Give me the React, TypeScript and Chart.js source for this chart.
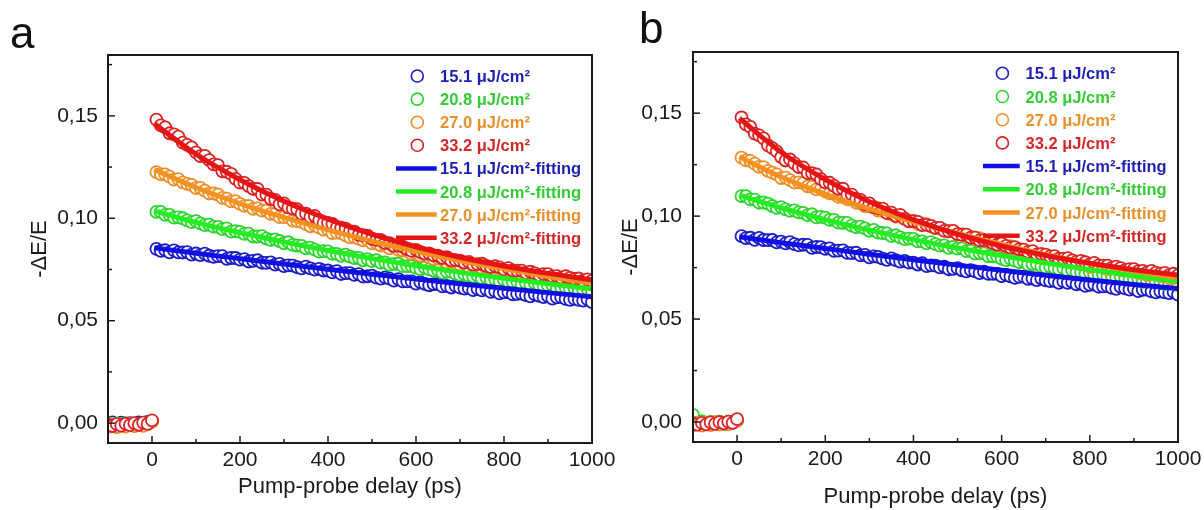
import React, { useEffect, useRef } from 'react';
import { Chart, registerables } from 'chart.js';

Chart.register(...registerables);

const FONT = '"Liberation Sans", Arial, Helvetica, sans-serif';

// ---------- data ----------
const delayTimes = [
  -100, -90, -80, -70, -60, -50, -40, -30, -20, -10, 0,
  10, 20, 30, 40, 50, 60, 70, 80, 90, 100,
  110, 120, 130, 140, 150, 160, 170, 180, 190, 200,
  210, 220, 230, 240, 250, 260, 270, 280, 290, 300,
  310, 320, 330, 340, 350, 360, 370, 380, 390, 400,
  410, 420, 430, 440, 450, 460, 470, 480, 490, 500,
  510, 520, 530, 540, 550, 560, 570, 580, 590, 600,
  610, 620, 630, 640, 650, 660, 670, 680, 690, 700,
  710, 720, 730, 740, 750, 760, 770, 780, 790, 800,
  810, 820, 830, 840, 850, 860, 870, 880, 890, 900,
  910, 920, 930, 940, 950, 960, 970, 980, 990, 1000,
];
const fitTimes = [5, 100, 200, 300, 400, 500, 600, 700, 800, 900, 1000];
const fluences = ['15.1', '20.8', '27.0', '33.2'];

const xMajorTicks = [0, 200, 400, 600, 800, 1000];
const xMinorTicks = [100, 300, 500, 700, 900];
const yMajorTicks = [0, 0.05, 0.1, 0.15];
const yMinorTicks = [0.025, 0.075, 0.125, 0.175];

// panel a
const aBlue = [
  -0.0006, 0.0004, -0.001, 0.0002, -0.0008, 0.0, -0.0012, 0.0003, -0.0005, 0.0006, 0.001,
  0.0851, 0.0841, 0.0844, 0.0834, 0.0843, 0.0834, 0.0833, 0.0835, 0.0823, 0.0828,
  0.082, 0.0827, 0.0817, 0.0812, 0.0815, 0.0815, 0.0802, 0.0806, 0.0806, 0.0798,
  0.0801, 0.0789, 0.0792, 0.0795, 0.0783, 0.0782, 0.0785, 0.0774, 0.0777, 0.0766,
  0.077, 0.0769, 0.0761, 0.0755, 0.0764, 0.0755, 0.0749, 0.0753, 0.0745, 0.0745,
  0.0736, 0.0742, 0.0728, 0.0732, 0.0732, 0.0724, 0.0727, 0.0715, 0.0717, 0.072,
  0.071, 0.0705, 0.0711, 0.0705, 0.0696, 0.0703, 0.0692, 0.0692, 0.0692, 0.0681,
  0.0688, 0.068, 0.0673, 0.0678, 0.0679, 0.0668, 0.067, 0.0662, 0.067, 0.0661,
  0.0657, 0.0659, 0.0649, 0.0655, 0.0648, 0.0653, 0.0641, 0.0644, 0.0633, 0.0638,
  0.064, 0.0629, 0.0631, 0.0632, 0.0625, 0.0619, 0.0628, 0.0621, 0.0615, 0.062,
  0.0608, 0.0614, 0.0615, 0.0607, 0.0602, 0.0607, 0.0602, 0.0598, 0.0604, 0.0591,
];
const aGreen = [
  -0.0003, -0.0009, -0.0001, -0.0011, 0.0, -0.0007, -0.0002, -0.001, 0.0001, -0.0004, 0.0008,
  0.1031, 0.1031, 0.1017, 0.1017, 0.1003, 0.1004, 0.1, 0.099, 0.0981, 0.0986,
  0.0975, 0.0967, 0.0969, 0.0959, 0.0958, 0.0947, 0.0951, 0.0935, 0.0937, 0.0934,
  0.0924, 0.0925, 0.0911, 0.0911, 0.0913, 0.0901, 0.0894, 0.0897, 0.0889, 0.0878,
  0.0883, 0.087, 0.0867, 0.0865, 0.0853, 0.0857, 0.0847, 0.0837, 0.084, 0.0838,
  0.0826, 0.0826, 0.0817, 0.0823, 0.0813, 0.0806, 0.0807, 0.0795, 0.08, 0.0791,
  0.0795, 0.0783, 0.0784, 0.0773, 0.0777, 0.0778, 0.0766, 0.0766, 0.0766, 0.0758,
  0.0752, 0.0759, 0.0751, 0.0744, 0.0747, 0.0734, 0.0739, 0.0739, 0.0729, 0.0723,
  0.0727, 0.072, 0.0715, 0.072, 0.0706, 0.071, 0.07, 0.0702, 0.0691, 0.0699,
  0.069, 0.0689, 0.0691, 0.0679, 0.0684, 0.0677, 0.0683, 0.0674, 0.0668, 0.0672,
  0.0673, 0.0659, 0.0663, 0.0663, 0.0656, 0.0659, 0.0648, 0.065, 0.0654, 0.0642,
];
const aOrange = [
  -0.0018, -0.0006, -0.002, -0.0009, -0.0017, -0.0004, -0.0015, -0.0008, -0.0013, -0.0003, 0.0006,
  0.1225, 0.1215, 0.1214, 0.1203, 0.1189, 0.1191, 0.1175, 0.1168, 0.1163, 0.1147,
  0.1148, 0.1135, 0.1121, 0.1121, 0.1116, 0.11, 0.1096, 0.1082, 0.1084, 0.107,
  0.1061, 0.106, 0.1046, 0.1048, 0.1037, 0.1037, 0.1021, 0.102, 0.1006, 0.1006,
  0.1004, 0.0988, 0.0986, 0.0982, 0.0971, 0.0961, 0.0966, 0.0954, 0.0944, 0.0944,
  0.0928, 0.093, 0.0928, 0.0916, 0.0907, 0.0908, 0.0899, 0.0892, 0.0894, 0.0877,
  0.0879, 0.0867, 0.0866, 0.0853, 0.0859, 0.0846, 0.0842, 0.084, 0.0826, 0.0827,
  0.0817, 0.0821, 0.0809, 0.0801, 0.0803, 0.0801, 0.0785, 0.0787, 0.0784, 0.0774,
  0.0777, 0.0764, 0.0766, 0.0769, 0.0757, 0.0755, 0.0758, 0.0746, 0.0748, 0.0737,
  0.0741, 0.0739, 0.0731, 0.0725, 0.0733, 0.0723, 0.0717, 0.0721, 0.0712, 0.0712,
  0.0703, 0.0709, 0.0694, 0.0698, 0.0697, 0.0689, 0.0692, 0.0679, 0.0681, 0.0684,
];
const aRed = [
  -0.0008, -0.0014, -0.0005, -0.0012, -0.0003, -0.001, 0.0, -0.0008, 0.0002, -0.0004, 0.0013,
  0.1482, 0.1453, 0.1444, 0.1415, 0.141, 0.1399, 0.1369, 0.1358, 0.1346, 0.1322,
  0.1303, 0.1305, 0.1284, 0.1263, 0.1259, 0.1229, 0.1227, 0.1217, 0.1192, 0.1174,
  0.1173, 0.1157, 0.1143, 0.1143, 0.1115, 0.1115, 0.1094, 0.109, 0.1068, 0.1073,
  0.1053, 0.1047, 0.1044, 0.1021, 0.1023, 0.1007, 0.1011, 0.0991, 0.0978, 0.0978,
  0.0973, 0.0954, 0.0954, 0.0949, 0.0937, 0.0935, 0.0919, 0.0917, 0.0915, 0.0899,
  0.0895, 0.0895, 0.0879, 0.0879, 0.0865, 0.0866, 0.0862, 0.085, 0.0841, 0.0846,
  0.0835, 0.0827, 0.0829, 0.0819, 0.0817, 0.0806, 0.081, 0.0794, 0.0796, 0.0793,
  0.0784, 0.0787, 0.0774, 0.0776, 0.0778, 0.0767, 0.0762, 0.0766, 0.076, 0.075,
  0.0757, 0.0745, 0.0744, 0.0744, 0.0733, 0.0739, 0.0731, 0.0722, 0.0727, 0.0727,
  0.0716, 0.0718, 0.071, 0.0717, 0.0709, 0.0704, 0.0706, 0.0695, 0.0702, 0.0694,
];
const aBlueFit = [0.0856, 0.0829, 0.0803, 0.0777, 0.0751, 0.0727, 0.0703, 0.068, 0.0658, 0.0637, 0.0617];
const aGreenFit = [0.1036, 0.098, 0.093, 0.0884, 0.0842, 0.0803, 0.0768, 0.0736, 0.0707, 0.068, 0.0656];
const aOrangeFit = [0.1238, 0.115, 0.1072, 0.1004, 0.0943, 0.0888, 0.0838, 0.0793, 0.0753, 0.0716, 0.0683];
const aRedFit = [0.1462, 0.1313, 0.1188, 0.1083, 0.0996, 0.0922, 0.0861, 0.081, 0.0767, 0.0731, 0.07];

// panel b
const bBlue = [
  -0.0002, -0.0007, 0.0, -0.0009, -0.0003, -0.0005, -0.0001, -0.0008, 0.0, -0.0003, 0.0009,
  0.0903, 0.0893, 0.0895, 0.0885, 0.0894, 0.0884, 0.0883, 0.0884, 0.0872, 0.0876,
  0.0868, 0.0874, 0.0864, 0.0858, 0.0861, 0.086, 0.0846, 0.085, 0.0849, 0.0841,
  0.0843, 0.0831, 0.0832, 0.0834, 0.0821, 0.082, 0.0822, 0.0809, 0.0812, 0.08,
  0.0804, 0.0802, 0.0794, 0.0787, 0.0795, 0.0786, 0.0779, 0.0783, 0.0774, 0.0774,
  0.0765, 0.0771, 0.0757, 0.0761, 0.076, 0.0751, 0.0754, 0.0742, 0.0744, 0.0747,
  0.0737, 0.0732, 0.0738, 0.0732, 0.0723, 0.073, 0.0719, 0.0719, 0.0719, 0.0708,
  0.0715, 0.0707, 0.07, 0.0705, 0.0706, 0.0695, 0.0697, 0.0689, 0.0697, 0.0688,
  0.0684, 0.0686, 0.0676, 0.0683, 0.0676, 0.068, 0.0669, 0.0672, 0.0661, 0.0666,
  0.0668, 0.0657, 0.0659, 0.066, 0.0652, 0.0647, 0.0656, 0.0649, 0.0643, 0.0648,
  0.0636, 0.0642, 0.0643, 0.0635, 0.063, 0.0635, 0.063, 0.0626, 0.0632, 0.0619,
];
const bGreen = [
  0.0035, -0.0004, 0.0004, -0.001, 0.0001, -0.0006, 0.0002, -0.0009, 0.0, -0.0003, 0.0008,
  0.1097, 0.1097, 0.1081, 0.108, 0.1065, 0.1066, 0.1061, 0.1049, 0.104, 0.1044,
  0.1033, 0.1025, 0.1028, 0.1018, 0.1016, 0.1005, 0.1009, 0.0994, 0.0996, 0.0993,
  0.0982, 0.0982, 0.0968, 0.0967, 0.0967, 0.0954, 0.0946, 0.0949, 0.094, 0.0928,
  0.0933, 0.092, 0.0918, 0.0916, 0.0903, 0.0907, 0.0897, 0.0888, 0.0891, 0.0889,
  0.0877, 0.0877, 0.0868, 0.0874, 0.0864, 0.0857, 0.0858, 0.0846, 0.0851, 0.0842,
  0.0844, 0.083, 0.0831, 0.0818, 0.082, 0.0819, 0.0805, 0.0805, 0.0803, 0.0793,
  0.0786, 0.0793, 0.0784, 0.0776, 0.0779, 0.0764, 0.0768, 0.0767, 0.0757, 0.075,
  0.0754, 0.0748, 0.0742, 0.0747, 0.0733, 0.0738, 0.0728, 0.0729, 0.0719, 0.0727,
  0.0717, 0.0716, 0.0717, 0.0705, 0.0709, 0.0701, 0.0707, 0.0697, 0.0691, 0.0694,
  0.0695, 0.0681, 0.0686, 0.0685, 0.0678, 0.0682, 0.067, 0.0673, 0.0676, 0.0665,
];
const bOrange = [
  -0.0015, -0.0003, -0.0017, -0.0006, -0.0015, -0.0001, -0.0013, -0.0005, -0.0011, -0.0002, 0.0006,
  0.1284, 0.1271, 0.1268, 0.1255, 0.1239, 0.1238, 0.122, 0.1211, 0.1203, 0.1185,
  0.1187, 0.1175, 0.1163, 0.1164, 0.116, 0.1145, 0.1142, 0.113, 0.1133, 0.112,
  0.1111, 0.1108, 0.1093, 0.1094, 0.1082, 0.1082, 0.1065, 0.1063, 0.1047, 0.1047,
  0.1044, 0.1027, 0.1024, 0.102, 0.1008, 0.0997, 0.1001, 0.0989, 0.0977, 0.0977,
  0.0961, 0.0963, 0.0961, 0.0949, 0.094, 0.0942, 0.0933, 0.0925, 0.0928, 0.0911,
  0.0913, 0.0901, 0.09, 0.0888, 0.0893, 0.088, 0.0877, 0.0875, 0.0861, 0.0862,
  0.0851, 0.0854, 0.0841, 0.0832, 0.0832, 0.0829, 0.0812, 0.0813, 0.0809, 0.0798,
  0.08, 0.0787, 0.0788, 0.079, 0.0777, 0.0775, 0.0777, 0.0764, 0.0766, 0.0754,
  0.0758, 0.0757, 0.0749, 0.0743, 0.0751, 0.0742, 0.0736, 0.074, 0.0732, 0.0732,
  0.0723, 0.0728, 0.0714, 0.0718, 0.0717, 0.0708, 0.0711, 0.0699, 0.07, 0.0703,
];
const bRed = [
  -0.0006, -0.0013, -0.0004, -0.0011, -0.0002, -0.0009, 0.0, -0.0007, 0.0002, -0.0004, 0.0014,
  0.1479, 0.1446, 0.1433, 0.1401, 0.1392, 0.1378, 0.1344, 0.133, 0.1314, 0.1287,
  0.127, 0.1275, 0.1256, 0.1238, 0.1236, 0.1209, 0.1209, 0.1202, 0.118, 0.1164,
  0.1162, 0.1147, 0.1132, 0.1133, 0.1104, 0.1104, 0.1083, 0.1079, 0.1057, 0.1062,
  0.1043, 0.1038, 0.1036, 0.1014, 0.1017, 0.1001, 0.1006, 0.0987, 0.0975, 0.0976,
  0.0972, 0.0956, 0.0957, 0.0953, 0.0943, 0.0943, 0.0928, 0.0927, 0.0928, 0.0913,
  0.0909, 0.091, 0.0895, 0.0896, 0.0882, 0.0883, 0.088, 0.0869, 0.0861, 0.0866,
  0.0855, 0.0847, 0.0849, 0.0839, 0.0837, 0.0826, 0.083, 0.0814, 0.0816, 0.0813,
  0.0804, 0.0806, 0.0793, 0.0794, 0.0796, 0.0785, 0.0779, 0.0783, 0.0776, 0.0766,
  0.0773, 0.0761, 0.076, 0.076, 0.0749, 0.0755, 0.0747, 0.0738, 0.0743, 0.0743,
  0.0733, 0.0734, 0.0727, 0.0734, 0.0726, 0.0721, 0.0724, 0.0713, 0.072, 0.0712,
];
const bBlueFit = [0.09, 0.0871, 0.0843, 0.0815, 0.0788, 0.0762, 0.0737, 0.0713, 0.069, 0.0668, 0.0648];
const bGreenFit = [0.1102, 0.104, 0.0983, 0.0932, 0.0886, 0.0845, 0.0808, 0.0772, 0.074, 0.071, 0.0684];
const bOrangeFit = [0.1288, 0.119, 0.1107, 0.1035, 0.0972, 0.0916, 0.0862, 0.0813, 0.077, 0.0733, 0.07];
const bRedFit = [0.1475, 0.131, 0.1178, 0.107, 0.0983, 0.0912, 0.0855, 0.0809, 0.0771, 0.074, 0.0714];

// ---------- styles ----------
const pointColors = ['#1c1cc8', '#2ad62a', '#ee8e2a', '#dc2222'];
const lineColors = ['#1010e6', '#22ee22', '#f5921f', '#e61414'];
const textColors = ['#1e1eb4', '#33cc33', '#e8902c', '#d42626'];
const INK = '#1a1a1a';

type PanelSpec = {
  tag: string;
  left: number;
  width: number;
  height: number;
  area: { left: number; top: number; right: number; bottom: number };
  yTitlePad: number;
  xTitlePad: number;
  yTickPad: number;
  tagX: number;
  tagY: number;
  legend: { cx: number; lx1: number; lx2: number; tx: number; y0: number; gap: number };
  points: number[][];
  fits: number[][];
};

const decorPlugin = {
  id: 'panelDecor',
  afterDatasetsDraw(chart: any, _args: any, opts: any) {
    const { ctx, chartArea: a, scales } = chart;
    const x = scales.x;
    const y = scales.y;
    ctx.save();
    ctx.strokeStyle = INK;
    ctx.lineWidth = 1.5;
    const xt = (v: number, len: number) => {
      const px = x.getPixelForValue(v);
      ctx.beginPath();
      ctx.moveTo(px, a.bottom);
      ctx.lineTo(px, a.bottom - len);
      ctx.stroke();
    };
    const yt = (v: number, len: number) => {
      const py = y.getPixelForValue(v);
      ctx.beginPath();
      ctx.moveTo(a.left, py);
      ctx.lineTo(a.left + len, py);
      ctx.stroke();
    };
    xMajorTicks.forEach((v) => xt(v, 7));
    xMinorTicks.forEach((v) => xt(v, 4));
    yMajorTicks.forEach((v) => yt(v, 7));
    yMinorTicks.forEach((v) => yt(v, 4));
    ctx.lineWidth = 2;
    ctx.strokeRect(a.left, a.top, a.right - a.left, a.bottom - a.top);

    const L = opts.legend;
    ctx.font = `bold 16.5px ${FONT}`;
    ctx.textAlign = 'left';
    ctx.textBaseline = 'alphabetic';
    chart.data.datasets.forEach((ds: any, i: number) => {
      const ry = L.y0 + i * L.gap;
      const si = i % 4;
      if (ds.showLine) {
        ctx.strokeStyle = ds.borderColor;
        ctx.lineWidth = 4.5;
        ctx.beginPath();
        ctx.moveTo(L.lx1, ry);
        ctx.lineTo(L.lx2, ry);
        ctx.stroke();
      } else {
        ctx.strokeStyle = ds.borderColor;
        ctx.fillStyle = '#ffffff';
        ctx.lineWidth = 1.6;
        ctx.beginPath();
        ctx.arc(L.cx, ry, 6, 0, Math.PI * 2);
        ctx.fill();
        ctx.stroke();
      }
      ctx.fillStyle = textColors[si];
      ctx.fillText(ds.label, L.tx, ry + 6);
    });

    ctx.font = `44px ${FONT}`;
    ctx.fillStyle = '#111111';
    ctx.fillText(opts.tag, opts.tagX, opts.tagY);
    ctx.restore();
  },
};

function buildConfig(p: PanelSpec): any {
  const pointSets = p.points.map((vals, i) => ({
    label: `${fluences[i]} μJ/cm²`,
    data: delayTimes.map((t, k) => ({ x: t, y: vals[k] })),
    showLine: false,
    borderColor: pointColors[i],
    backgroundColor: '#ffffff',
    pointRadius: 6,
    pointHoverRadius: 6,
    pointBorderWidth: 1.8,
    order: 8 - i,
  }));
  const fitSets = p.fits.map((vals, i) => ({
    label: `${fluences[i]} μJ/cm²-fitting`,
    data: fitTimes.map((t, k) => ({ x: t, y: vals[k] })),
    showLine: true,
    borderColor: lineColors[i],
    backgroundColor: lineColors[i],
    borderWidth: 5,
    pointRadius: 0,
    pointHoverRadius: 0,
    cubicInterpolationMode: 'monotone',
    order: 4 - i,
  }));
  return {
    type: 'scatter',
    data: { datasets: [...pointSets, ...fitSets] },
    options: {
      responsive: false,
      animation: false,
      devicePixelRatio: 1,
      events: [],
      layout: {
        padding: { left: 0, top: p.area.top, right: p.width - p.area.right, bottom: 0 },
      },
      plugins: {
        legend: { display: false },
        tooltip: { enabled: false },
        panelDecor: { legend: p.legend, tag: p.tag, tagX: p.tagX, tagY: p.tagY },
      },
      scales: {
        x: {
          type: 'linear',
          position: 'bottom',
          min: -100,
          max: 1000,
          afterFit: (s: any) => {
            s.height = p.height - p.area.bottom;
          },
          afterBuildTicks: (s: any) => {
            s.ticks = xMajorTicks.map((v) => ({ value: v }));
          },
          ticks: {
            autoSkip: false,
            maxRotation: 0,
            padding: 5,
            color: INK,
            font: { family: FONT, size: 21 },
            callback: (v: any) => String(v),
          },
          grid: { display: false, drawTicks: false },
          border: { display: false },
          title: {
            display: true,
            text: 'Pump-probe delay (ps)',
            color: INK,
            font: { family: FONT, size: 22 },
            padding: { top: 0, bottom: p.xTitlePad },
          },
        },
        y: {
          type: 'linear',
          position: 'left',
          min: -0.0097,
          max: 0.1797,
          afterFit: (s: any) => {
            s.width = p.area.left;
          },
          afterBuildTicks: (s: any) => {
            s.ticks = yMajorTicks.map((v) => ({ value: v }));
          },
          ticks: {
            autoSkip: false,
            padding: p.yTickPad,
            color: INK,
            font: { family: FONT, size: 21 },
            callback: (v: any) => Number(v).toFixed(2).replace('.', ','),
          },
          grid: { display: false, drawTicks: false },
          border: { display: false },
          title: {
            display: true,
            text: '-ΔE/E',
            color: INK,
            font: { family: FONT, size: 22 },
            padding: { top: p.yTitlePad, bottom: 0 },
          },
        },
      },
    },
    plugins: [decorPlugin],
  };
}

const panelA: PanelSpec = {
  tag: 'a',
  left: 0,
  width: 632,
  height: 510,
  area: { left: 108, top: 55, right: 592, bottom: 443 },
  yTitlePad: 27,
  xTitlePad: 10,
  yTickPad: 10,
  tagX: 10,
  tagY: 48,
  legend: { cx: 417.3, lx1: 396, lx2: 436.7, tx: 440, y0: 76, gap: 23.1 },
  points: [aBlue, aGreen, aOrange, aRed],
  fits: [aBlueFit, aGreenFit, aOrangeFit, aRedFit],
};

const panelB: PanelSpec = {
  tag: 'b',
  left: 600,
  width: 612,
  height: 510,
  area: { left: 93, top: 52, right: 578, bottom: 442 },
  yTitlePad: 18,
  xTitlePad: 0,
  yTickPad: 11,
  tagX: 39,
  tagY: 43,
  legend: { cx: 402.4, lx1: 383, lx2: 419.7, tx: 425.5, y0: 73.3, gap: 23.2 },
  points: [bBlue, bGreen, bOrange, bRed],
  fits: [bBlueFit, bGreenFit, bOrangeFit, bRedFit],
};

function Panel({ spec }: { spec: PanelSpec }) {
  const ref = useRef<HTMLCanvasElement | null>(null);
  useEffect(() => {
    if (!ref.current) return;
    const chart = new Chart(ref.current, buildConfig(spec));
    return () => chart.destroy();
  }, [spec]);
  return (
    <canvas
      ref={ref}
      width={spec.width}
      height={spec.height}
      style={{
        position: 'absolute',
        left: spec.left,
        top: 0,
        width: spec.width,
        height: spec.height,
      }}
    />
  );
}

export default function App() {
  return (
    <div
      style={{
        position: 'absolute',
        left: 0,
        top: 0,
        width: 1204,
        height: 510,
        overflow: 'hidden',
        background: '#ffffff',
      }}
    >
      <Panel spec={panelA} />
      <Panel spec={panelB} />
    </div>
  );
}
